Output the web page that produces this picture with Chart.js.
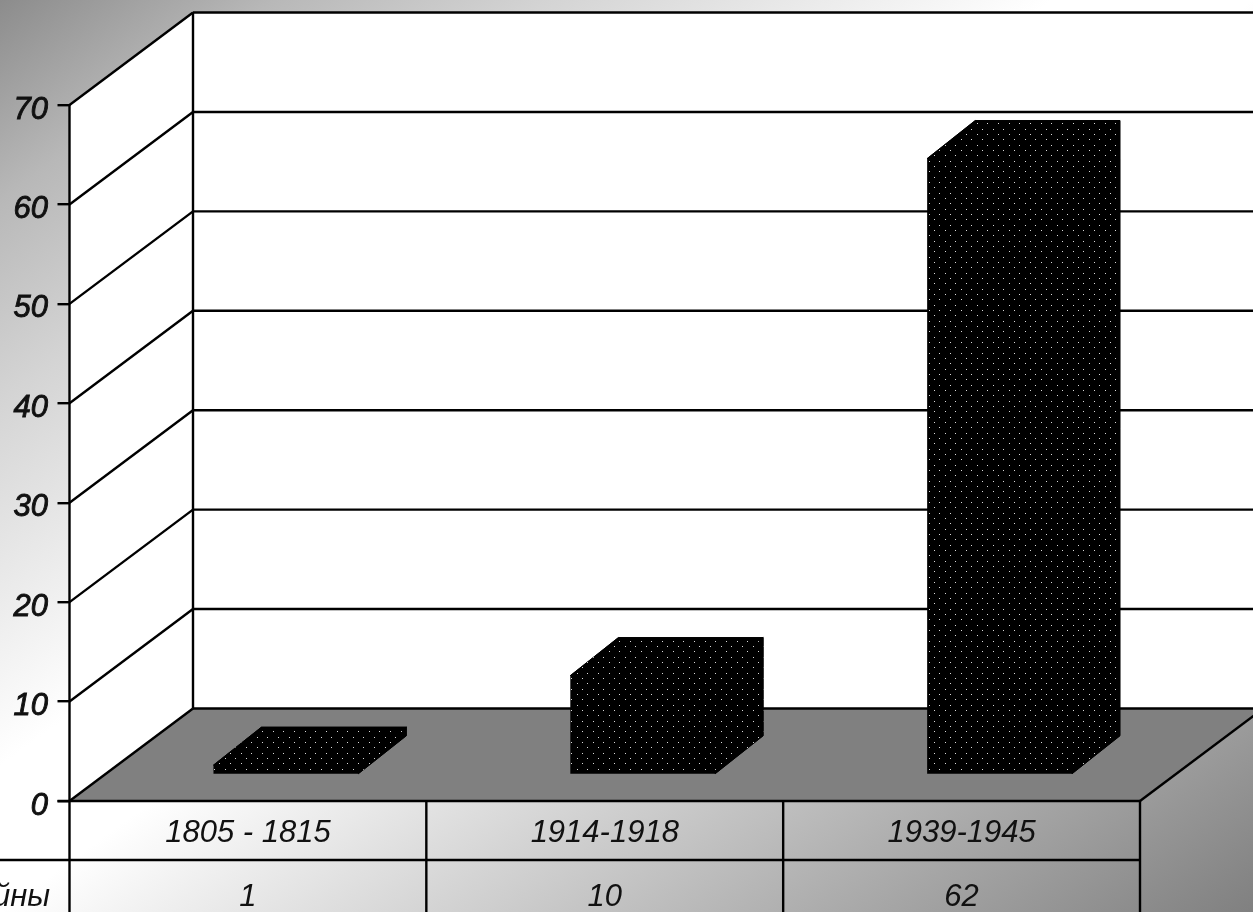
<!DOCTYPE html>
<html>
<head>
<meta charset="utf-8">
<style>
  html, body { margin: 0; padding: 0; background: #fff; overflow: hidden; }
  canvas { display: block; }
</style>
<script src="https://cdn.jsdelivr.net/npm/chart.js@4/dist/chart.umd.min.js"></script>
</head>
<body>
<canvas id="warChart" width="1253" height="912"></canvas>
<script>
const categories = ['1805 - 1815', '1914-1918', '1939-1945'];
const warValues = [1, 10, 62];
const seriesName = 'Войны';
const yTicks = [0, 10, 20, 30, 40, 50, 60, 70];

// depth of the box and of the columns, in px
const wall = { dx: 123.5, dy: 92.5 };
const barShift = { dx: 38, dy: 26 };
const barDepth = { dx: 48, dy: 38 };
const labelFont = 'italic 31px "Liberation Sans"';

function line(ctx, x1, y1, x2, y2) {
    ctx.beginPath();
    ctx.moveTo(x1, y1);
    ctx.lineTo(x2, y2);
    ctx.stroke();
}

function poly(ctx, pts, fill, edge) {
    ctx.beginPath();
    pts.forEach((p, i) => i ? ctx.lineTo(p[0], p[1]) : ctx.moveTo(p[0], p[1]));
    ctx.closePath();
    ctx.fillStyle = fill;
    ctx.fill();
    if (edge) {
        ctx.strokeStyle = edge;
        ctx.lineWidth = 1;
        ctx.lineJoin = 'round';
        ctx.stroke();
    }
}

// black fill with small staggered white dots
function dotPattern(ctx) {
    const tile = document.createElement('canvas');
    tile.width = tile.height = 32;
    const t = tile.getContext('2d');
    t.fillStyle = '#000';
    t.fillRect(0, 0, 32, 32);
    t.fillStyle = '#d8d8d8';
    for (let r = 0; r < 6; r++) {
        for (let c = 0; c < 3; c++) {
            t.fillRect(Math.round(c * 10.67 + (r % 2) * 5.33), Math.round(r * 5.33), 1, 1);
        }
    }
    return ctx.createPattern(tile, 'repeat');
}

// corner to corner gradient: dark corners top left and bottom right, white across the middle
function backgroundGradient(ctx, w, h) {
    const a = 1 / w, b = 1 / h;
    const k = 2 / (a * a + b * b);
    const g = ctx.createLinearGradient(0, 0, k * a, k * b);
    g.addColorStop(0, '#8c8c8c');
    g.addColorStop(0.11, '#b8b8b8');
    g.addColorStop(0.22, '#d4d4d4');
    g.addColorStop(0.42, '#ffffff');
    g.addColorStop(0.5, '#ffffff');
    g.addColorStop(1, '#808080');
    return g;
}

const box3d = {
    id: 'box3d',
    beforeDraw(chart) {
        const { ctx, width, height, scales: { y }, chartArea: a } = chart;
        ctx.save();
        ctx.fillStyle = backgroundGradient(ctx, width, height);
        ctx.fillRect(0, 0, width, height);

        const L = a.left, R = a.right, T = a.top, B = a.bottom;
        const bl = L + wall.dx, br = R + wall.dx, bt = T - wall.dy, bb = B - wall.dy;
        poly(ctx, [[L, T], [bl, bt], [bl, bb], [L, B]], '#fff');
        poly(ctx, [[bl, bt], [br, bt], [br, bb], [bl, bb]], '#fff');
        poly(ctx, [[L, B], [bl, bb], [br, bb], [R, B]], '#808080');

        ctx.strokeStyle = '#000';
        ctx.lineWidth = 2.4;
        yTicks.forEach(v => {
            const py = y.getPixelForValue(v);
            line(ctx, L, py, bl, py - wall.dy);
            line(ctx, bl, py - wall.dy, br, py - wall.dy);
        });
        line(ctx, bl, bt, bl, bb);
        line(ctx, L, T, L, B);
        line(ctx, R, B, br, bb);
        ctx.restore();
    },
    beforeDatasetDraw(chart) {
        const { ctx } = chart;
        const fill = chart.data.datasets[0].backgroundColor;
        ctx.save();
        // the front face is the library's own bar, moved into the box.
        // top and side faces go in the same moved space so the dots line up
        ctx.translate(barShift.dx, -barShift.dy);
        chart.getDatasetMeta(0).data.forEach(bar => {
            const p = bar.getProps(['x', 'y', 'base', 'width'], true);
            const x1 = p.x - p.width / 2;
            const x2 = p.x + p.width / 2;
            const dx = barDepth.dx, dy = barDepth.dy;
            poly(ctx, [[x1, p.y], [x1 + dx, p.y - dy], [x2 + dx, p.y - dy], [x2, p.y]], '#000', '#000');
            poly(ctx, [[x2, p.y], [x2 + dx, p.y - dy], [x2 + dx, p.base - dy], [x2, p.base]], '#000', '#000');
            poly(ctx, [[x1, p.y], [x1 + dx, p.y - dy], [x2 + dx, p.y - dy], [x2, p.y]], fill);
            poly(ctx, [[x2, p.y], [x2 + dx, p.y - dy], [x2 + dx, p.base - dy], [x2, p.base]], fill);
        });
    },
    afterDatasetDraw(chart) {
        chart.ctx.restore();
    },
    afterDraw(chart) {
        const { ctx, height, scales: { x, y }, chartArea: a } = chart;
        ctx.save();
        ctx.strokeStyle = '#000';
        ctx.lineWidth = 2.4;
        // data table under the chart
        const rowY = 860;
        line(ctx, a.left - 12, a.bottom, a.right, a.bottom);
        line(ctx, 0, rowY, a.right, rowY);
        line(ctx, a.left, a.bottom, a.left, height);
        categories.forEach((c, i) => {
            const edge = x.getPixelForTick(i) + (x.getPixelForTick(1) - x.getPixelForTick(0)) / 2;
            line(ctx, edge, a.bottom, edge, height);
        });
        ctx.fillStyle = '#111';
        ctx.font = labelFont;
        ctx.textBaseline = 'middle';
        ctx.textAlign = 'center';
        warValues.forEach((v, i) => ctx.fillText(String(v), x.getPixelForTick(i), 897));
        ctx.textAlign = 'right';
        ctx.fillText(seriesName, 50, 897);
        // y labels sit a little below their ticks in the original
        ctx.strokeStyle = '#111';
        ctx.lineWidth = 0.9;
        yTicks.forEach(v => {
            const py = y.getPixelForValue(v) + 5;
            ctx.fillText(String(v), 48, py);
            ctx.strokeText(String(v), 48, py);
        });
        ctx.restore();
    }
};

const canvas = document.getElementById('warChart');
const context = canvas.getContext('2d');

new Chart(context, {
    type: 'bar',
    data: {
        labels: categories,
        datasets: [{
            label: seriesName,
            data: warValues,
            backgroundColor: dotPattern(context),
            borderWidth: 0,
            barPercentage: 0.406,
            categoryPercentage: 1,
            clip: false
        }]
    },
    options: {
        responsive: false,
        animation: false,
        devicePixelRatio: 1,
        layout: { padding: { left: 0, top: 105, right: 113, bottom: 0 } },
        plugins: { legend: { display: false }, tooltip: { enabled: false } },
        scales: {
            x: {
                afterFit: s => { s.height = 111; },
                grid: { display: false },
                border: { display: false },
                ticks: {
                    padding: 6,
                    color: '#111',
                    maxRotation: 0,
                    font: { family: '"Liberation Sans"', size: 31, style: 'italic' }
                }
            },
            y: {
                min: 0,
                max: 70,
                afterFit: s => { s.width = 69.5; },
                grid: { drawOnChartArea: false, color: '#000', lineWidth: 2.4, tickLength: 12 },
                border: { display: false },
                ticks: {
                    stepSize: 10,
                    display: false
                }
            }
        }
    },
    plugins: [box3d]
});
</script>
</body>
</html>
